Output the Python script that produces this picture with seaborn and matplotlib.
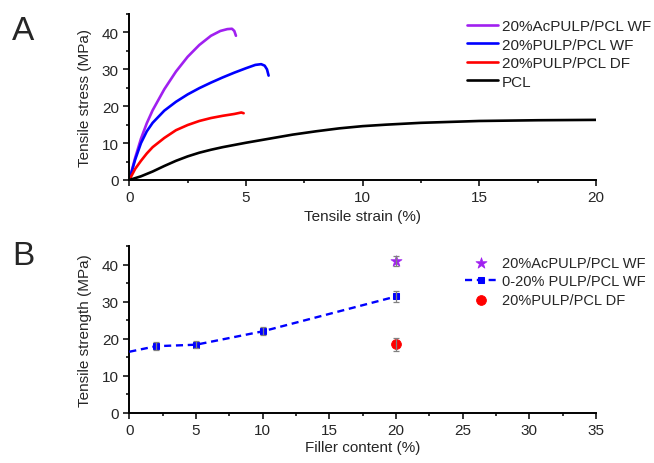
import numpy as np
import pandas as pd
import matplotlib
matplotlib.use("Agg")
import matplotlib.pyplot as plt
from matplotlib.ticker import MultipleLocator
import seaborn as sns

# ---------------- data ----------------
# Panel A: stress-strain curves
ac_strain = [0, 0.25, 0.5, 0.75, 1.0, 1.5, 2.0, 2.5, 3.0, 3.5, 3.9, 4.2, 4.4, 4.5, 4.57]
ac_stress = [0, 6.0, 11.2, 15.4, 18.9, 24.6, 29.4, 33.4, 36.6, 39.1, 40.4, 40.9, 41.0, 40.4, 39.1]

wf_strain = [0, 0.25, 0.5, 0.75, 1.0, 1.5, 2.0, 2.5, 3.0, 3.5, 4.0, 4.5, 5.0, 5.4, 5.65, 5.8, 5.9, 5.97]
wf_stress = [0, 5.5, 10.0, 13.2, 15.5, 18.8, 21.2, 23.2, 24.9, 26.4, 27.8, 29.1, 30.3, 31.2, 31.4, 31.0, 30.0, 28.3]

df_strain = [0, 0.25, 0.5, 0.75, 1.0, 1.5, 2.0, 2.5, 3.0, 3.5, 4.0, 4.5, 4.8, 4.9]
df_stress = [0, 3.0, 5.2, 7.2, 8.9, 11.4, 13.5, 14.9, 16.0, 16.8, 17.4, 17.9, 18.3, 18.1]

pcl_strain = [0, 0.5, 1.0, 1.5, 2.0, 2.5, 3.0, 3.5, 4.0, 5.0, 6.0, 7.0, 8.0, 9.0, 10.0, 11.0, 12.5, 15.0, 17.5, 20.0]
pcl_stress = [0, 1.0, 2.3, 3.8, 5.2, 6.4, 7.4, 8.2, 8.9, 10.1, 11.2, 12.3, 13.2, 14.0, 14.6, 15.0, 15.5, 16.0, 16.2, 16.3]

curve_labels = ["20%AcPULP/PCL WF", "20%PULP/PCL WF", "20%PULP/PCL DF", "PCL"]

# Panel B: tensile strength vs filler content
filler = [0, 2, 5, 10, 20]
strength = [16.5, 18.0, 18.4, 22.0, 31.4]
strength_err = [0, 1.0, 1.0, 1.1, 1.5]

ac_filler = [20]
ac_strength = [40.9]
ac_err = [1.3]

dfp_filler = [20]
dfp_strength = [18.5]
dfp_err = [1.8]

b_labels = ["20%AcPULP/PCL WF", "0-20% PULP/PCL WF", "20%PULP/PCL DF"]

# ---------------- style ----------------
sns.set_style("ticks")
plt.rcParams["font.family"] = ["Liberation Sans", "DejaVu Sans"]
plt.rcParams["axes.linewidth"] = 1.4

PURPLE = "#A020F0"
BLUE = "#0000FF"
RED = "#FF0000"
BLACK = "#000000"
FS = 11

fig = plt.figure(figsize=(6.54, 4.64), dpi=100)
W, H = 654, 464
left = 129.3 / W
width = (596 - 129.3) / W
ax1 = fig.add_axes([left, 1 - 181 / H, width, 166 / H])
ax2 = fig.add_axes([left, 1 - 414 / H, width, 167 / H])

# ---------------- panel A ----------------
series = [(ac_strain, ac_stress, PURPLE), (wf_strain, wf_stress, BLUE),
          (df_strain, df_stress, RED), (pcl_strain, pcl_stress, BLACK)]
for (xs, ys, col), lab in zip(series, curve_labels):
    d = pd.DataFrame({"strain": xs, "stress": ys})
    sns.lineplot(data=d, x="strain", y="stress", sort=False, estimator=None,
                 color=col, linewidth=1.9, label=lab, ax=ax1)

ax1.set_xlim(0, 20)
ax1.set_ylim(0, 45)
ax1.xaxis.set_major_locator(MultipleLocator(5))
ax1.xaxis.set_minor_locator(MultipleLocator(2.5))
ax1.yaxis.set_major_locator(MultipleLocator(10))
ax1.yaxis.set_minor_locator(MultipleLocator(5))
ax1.set_xlabel("Tensile strain (%)", fontsize=FS, labelpad=3)
ax1.set_ylabel("Tensile stress (MPa)", fontsize=FS, labelpad=7)
ax1.legend(loc="upper left", bbox_to_anchor=(467 / W, 1 - 20 / H),
           bbox_transform=fig.transFigure, frameon=False, borderpad=0,
           borderaxespad=0, handlelength=2.0, handletextpad=0.3,
           labelspacing=0.3, fontsize=FS)

# ---------------- panel B ----------------
ax2.errorbar(filler[1:], strength[1:], yerr=strength_err[1:], fmt="none",
             ecolor="#808080", elinewidth=0.9, capsize=2.2, capthick=0.9, zorder=4)
ax2.errorbar(ac_filler, ac_strength, yerr=ac_err, fmt="none",
             ecolor="#808080", elinewidth=0.9, capsize=2.2, capthick=0.9, zorder=4)
ax2.errorbar(dfp_filler, dfp_strength, yerr=dfp_err, fmt="none",
             ecolor="#808080", elinewidth=0.9, capsize=2.2, capthick=0.9, zorder=4)

sns.scatterplot(x=ac_filler, y=ac_strength, marker="*", s=70, color=PURPLE,
                edgecolor=PURPLE, linewidth=0.5, label=b_labels[0], ax=ax2, zorder=3)
sns.lineplot(x=filler, y=strength, color=BLUE, linestyle=(0, (3, 2)), linewidth=1.7,
             marker="s", markersize=4.5, markeredgecolor=BLUE, markevery=[1, 2, 3, 4],
             sort=False, estimator=None, label=b_labels[1], ax=ax2, zorder=3)
sns.scatterplot(x=dfp_filler, y=dfp_strength, marker="o", s=50, color=RED,
                edgecolor=RED, label=b_labels[2], ax=ax2, zorder=3)

ax2.set_xlim(0, 35)
ax2.set_ylim(0, 45)
ax2.xaxis.set_major_locator(MultipleLocator(5))
ax2.xaxis.set_minor_locator(MultipleLocator(2.5))
ax2.yaxis.set_major_locator(MultipleLocator(10))
ax2.yaxis.set_minor_locator(MultipleLocator(5))
ax2.set_xlabel("Filler content (%)", fontsize=FS, labelpad=2)
ax2.set_ylabel("Tensile strength (MPa)", fontsize=FS, labelpad=7)

h, l = ax2.get_legend_handles_labels()
order = [l.index(x) for x in b_labels]
ax2.legend([h[i] for i in order], [l[i] for i in order], loc="upper left",
           bbox_to_anchor=(465 / W, 1 - 257 / H), bbox_transform=fig.transFigure,
           frameon=False, borderpad=0, borderaxespad=0, handlelength=2.2,
           handletextpad=0.35, labelspacing=0.3, fontsize=10.5)

for ax in (ax1, ax2):
    sns.despine(ax=ax)
    ax.tick_params(which="major", direction="out", length=4.5, width=1.1,
                   labelsize=FS, pad=3, color="black")
    ax.tick_params(which="minor", direction="out", length=2.5, width=1.1, color="black")
    for s in ("left", "bottom"):
        ax.spines[s].set_color("black")

fig.text(23 / W, 1 - 32 / H, "A", fontsize=24, ha="center", va="center")
fig.text(23 / W, 1 - 256.5 / H, "B", fontsize=24, ha="center", va="center")

fig.savefig("out.png", dpi=100)
